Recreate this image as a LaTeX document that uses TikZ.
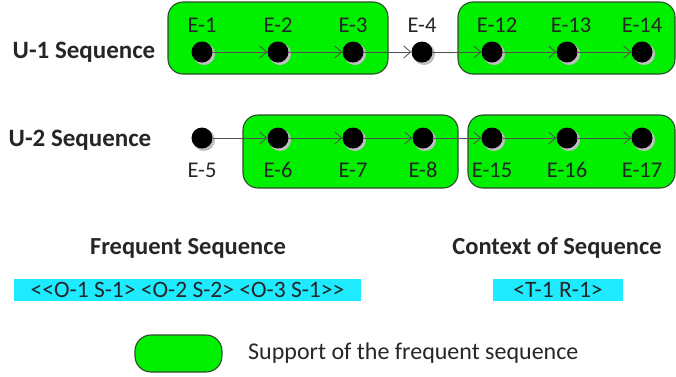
\documentclass[tikz,border=0pt]{standalone}
\usepackage{fontspec}
\setmainfont{Carlito}[Ligatures=NoCommon]
\usetikzlibrary{arrows.meta}
\definecolor{grpfill}{RGB}{0,240,0}
\definecolor{grpline}{RGB}{45,75,45}
\definecolor{cyanfill}{RGB}{30,235,255}
\definecolor{arrline}{RGB}{80,80,80}
\tikzset{
  grp/.style={draw=grpline, line width=1.1pt, fill=grpfill, rounded corners=15pt, inner sep=0pt},
  dot/.style={circle, fill=black, minimum size=21pt, inner sep=0pt},
  dotshadow/.style={circle, fill=black!25, minimum size=22pt, inner sep=0pt},
  lab/.style={font=\fontsize{22.5}{26}\selectfont, text=black!85, inner sep=0pt},
  legtext/.style={font=\fontsize{24}{28}\selectfont, text=black!85, inner sep=0pt},
  rowlab/.style={font=\fontsize{25}{29}\bfseries\selectfont, text=black!85, inner sep=0pt},
  head/.style={font=\fontsize{24.5}{28}\bfseries\selectfont, text=black!85, inner sep=0pt},
  seqbox/.style={fill=cyanfill, font=\fontsize{23.5}{27}\selectfont, text=black!85, inner sep=0pt, minimum height=22pt},
  arr/.style={draw=arrline, line width=0.8pt, -{Straight Barb[length=7pt,width=12pt]}}
}
\begin{document}
\begin{tikzpicture}[x=1pt,y=-1pt]
\useasboundingbox (0,0) rectangle (676,376);
% groups
\node[grp, minimum width=220pt, minimum height=72pt] (gA) at (278,38) {};
\node[grp, minimum width=217pt, minimum height=72pt] (gB) at (566.5,38) {};
\node[grp, minimum width=215pt, minimum height=73pt] (gC) at (350.5,151.5) {};
\node[grp, minimum width=207pt, minimum height=73pt] (gD) at (571.5,151.5) {};
% row labels
\node[rowlab] (u1) at (84,52) {U-1 Sequence};
\node[rowlab] (u2) at (80,140) {U-2 Sequence};
% dots
\foreach \n/\x in {e1/202,e2/278,e3/353,e4/422,e12/492,e13/567,e14/642}{
  \node[dotshadow] at (\x+2,54) {};
  \node[dot] (\n) at (\x,52) {};
}
\foreach \n/\x in {e5/202,e6/278,e7/353,e8/423,e15/492,e16/567,e17/642}{
  \node[dotshadow] at (\x+2,140) {};
  \node[dot] (\n) at (\x,138) {};
}
% labels
\node[lab] (l1) at (202,25) {E-1};
\node[lab] (l2) at (278,25) {E-2};
\node[lab] (l3) at (353,25) {E-3};
\node[lab] (l4) at (422,25) {E-4};
\node[lab] (l12) at (497,25) {E-12};
\node[lab] (l13) at (571,25) {E-13};
\node[lab] (l14) at (642,25) {E-14};
\node[lab] (l5) at (202,170) {E-5};
\node[lab] (l6) at (278,170) {E-6};
\node[lab] (l7) at (353,170) {E-7};
\node[lab] (l8) at (423,170) {E-8};
\node[lab] (l15) at (492,170) {E-15};
\node[lab] (l16) at (567,170) {E-16};
\node[lab] (l17) at (642,170) {E-17};
% arrows
\draw[arr] (e1) -- (e2);
\draw[arr] (e2) -- (e3);
\draw[arr] (e3) -- (e4);
\draw[arr] (e4) -- (e12);
\draw[arr] (e12) -- (e13);
\draw[arr] (e13) -- (e14);
\draw[arr] (e5) -- (e6);
\draw[arr] (e6) -- (e7);
\draw[arr] (e7) -- (e8);
\draw[arr] (e8) -- (e15);
\draw[arr] (e15) -- (e16);
\draw[arr] (e16) -- (e17);
% bottom
\node[head] (fh) at (188,248) {Frequent Sequence};
\node[head] (ch) at (557,248) {Context of Sequence};
\node[seqbox, minimum width=347pt] (fs) at (187.5,290) {<\kern0pt<O-1 S-1> <O-2 S-2> <O-3 S-1>\kern0pt>};
\node[seqbox, minimum width=130pt] (cs) at (558,290) {<T-1 R-1>};
% legend
\node[grp, rounded corners=16pt, minimum width=87pt, minimum height=37pt] (leg) at (178.5,353.5) {};
\node[legtext, anchor=west] (legt) at (248,353) {Support of the frequent sequence};
\end{tikzpicture}
\end{document}
